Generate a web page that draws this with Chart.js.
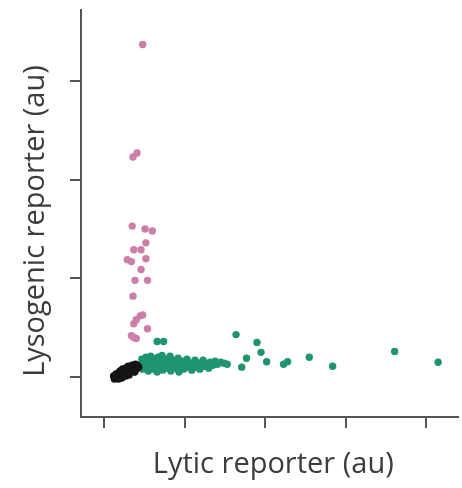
<!DOCTYPE html>
<html>
<head>
<meta charset="utf-8">
<script src="https://cdn.jsdelivr.net/npm/chart.js@4/dist/chart.umd.min.js"></script>
<style>
  html, body { margin: 0; padding: 0; background: #fff; }
  #wrap { width: 462px; height: 488px; }
</style>
</head>
<body>
<div id="wrap"><canvas id="c" width="462" height="488"></canvas></div>
<script>
// ---- Data (arbitrary units) ----
const xTicks = [0, 1, 2, 3, 4];
const yTicks = [0, 1, 2, 3];
const xTitle = " Lytic reporter (au)";
const yTitle = "Lysogenic reporter (au)  ";

const lysogenicPts = [
  [0.48, 3.37], [0.41, 2.27], [0.36, 2.23],
  [0.35, 1.53], [0.51, 1.50], [0.60, 1.48], [0.52, 1.36],
  [0.37, 1.29], [0.46, 1.29], [0.29, 1.19], [0.34, 1.17], [0.52, 1.20],
  [0.46, 1.09], [0.385, 0.98], [0.54, 0.98], [0.36, 0.82],
  [0.45, 0.62], [0.48, 0.63], [0.40, 0.58], [0.37, 0.54],
  [0.54, 0.49], [0.34, 0.42], [0.40, 0.39], [0.37, 0.40]
];

const lyticPts = [
  [0.45, 0.12], [0.47, 0.18], [0.48, 0.08], [0.50, 0.15], [0.52, 0.20], [0.53, 0.10],
  [0.55, 0.06], [0.56, 0.16], [0.58, 0.21], [0.59, 0.12], [0.61, 0.08], [0.62, 0.18],
  [0.64, 0.14], [0.66, 0.05], [0.67, 0.20], [0.69, 0.10], [0.70, 0.16], [0.72, 0.22],
  [0.73, 0.07], [0.75, 0.13], [0.77, 0.18], [0.78, 0.09], [0.80, 0.15], [0.82, 0.21],
  [0.83, 0.06], [0.85, 0.12], [0.87, 0.17], [0.88, 0.09], [0.90, 0.14], [0.92, 0.19],
  [0.93, 0.05], [0.95, 0.11], [0.97, 0.16], [0.99, 0.08], [1.01, 0.13], [1.03, 0.18],
  [1.05, 0.10], [1.07, 0.14], [1.09, 0.07], [1.11, 0.12], [1.13, 0.17], [1.15, 0.10],
  [1.17, 0.14], [1.19, 0.08], [1.21, 0.13], [1.23, 0.17], [1.25, 0.11], [1.27, 0.14],
  [1.30, 0.09], [1.32, 0.15], [1.35, 0.12], [1.38, 0.16], [1.41, 0.13], [1.45, 0.15],
  [1.49, 0.14], [1.53, 0.13],
  [0.66, 0.36], [0.74, 0.36],
  [1.64, 0.43], [1.90, 0.35], [1.95, 0.25], [2.02, 0.155], [1.77, 0.19], [1.71, 0.10],
  [2.23, 0.13], [2.28, 0.155], [2.55, 0.20], [2.84, 0.11], [3.61, 0.26], [4.15, 0.15]
];

const uninducedPts = [
  [0.13, -0.02], [0.15, 0.00], [0.15, 0.03], [0.17, -0.01], [0.18, 0.04], [0.20, 0.01],
  [0.20, 0.06], [0.22, 0.03], [0.23, 0.08], [0.25, 0.02], [0.25, 0.06], [0.27, 0.09],
  [0.28, 0.04], [0.30, 0.07], [0.30, 0.11], [0.32, 0.05], [0.33, 0.09], [0.35, 0.12],
  [0.36, 0.07], [0.38, 0.10], [0.40, 0.08], [0.41, 0.12], [0.43, 0.10], [0.22, -0.01],
  [0.27, 0.01], [0.31, 0.02], [0.18, -0.02], [0.38, 0.05], [0.12, 0.01], [0.39, 0.13]
];

const xRange = [-0.286, 4.397];
const yRange = [-0.405, 3.72];

const toXY = arr => arr.map(p => ({ x: p[0], y: p[1] }));
const axisColor = '#555555';
const titleFont = { family: '"Open Sans", "DejaVu Sans", sans-serif', size: 29 };

new Chart(document.getElementById('c'), {
  type: 'scatter',
  data: {
    datasets: [
      { label: 'Uninduced', data: toXY(uninducedPts), backgroundColor: '#141414', pointRadius: 3.8, borderWidth: 0 },
      { label: 'Lytic', data: toXY(lyticPts), backgroundColor: '#1f9471', pointRadius: 3.7, borderWidth: 0 },
      { label: 'Lysogenic', data: toXY(lysogenicPts), backgroundColor: '#cc7eab', pointRadius: 3.7, borderWidth: 0 }
    ]
  },
  options: {
    responsive: false,
    animation: false,
    events: [],
    layout: { padding: { top: 10, left: 0, right: 0, bottom: 0 } },
    plugins: { legend: { display: false }, tooltip: { enabled: false } },
    scales: {
      x: {
        type: 'linear', min: xRange[0], max: xRange[1],
        afterBuildTicks: s => { s.ticks = xTicks.map(v => ({ value: v })); },
        afterFit: s => { s.height = 71; },
        ticks: { display: false },
        grid: { drawOnChartArea: false, drawTicks: true, tickLength: 11, color: axisColor, lineWidth: 2 },
        border: { display: true, color: axisColor, width: 2 },
        title: { display: true, text: xTitle, color: '#3c3c3c', font: titleFont, padding: { top: 0, bottom: 6 } }
      },
      y: {
        type: 'linear', min: yRange[0], max: yRange[1],
        afterBuildTicks: s => { s.ticks = yTicks.map(v => ({ value: v })); },
        afterFit: s => { s.width = 81; },
        ticks: { display: false },
        grid: { drawOnChartArea: false, drawTicks: true, tickLength: 11, color: axisColor, lineWidth: 2 },
        border: { display: true, color: axisColor, width: 2 },
        title: { display: true, text: yTitle, color: '#3c3c3c', font: titleFont, padding: { top: 18, bottom: 0 } }
      }
    }
  }
});
</script>
</body>
</html>
